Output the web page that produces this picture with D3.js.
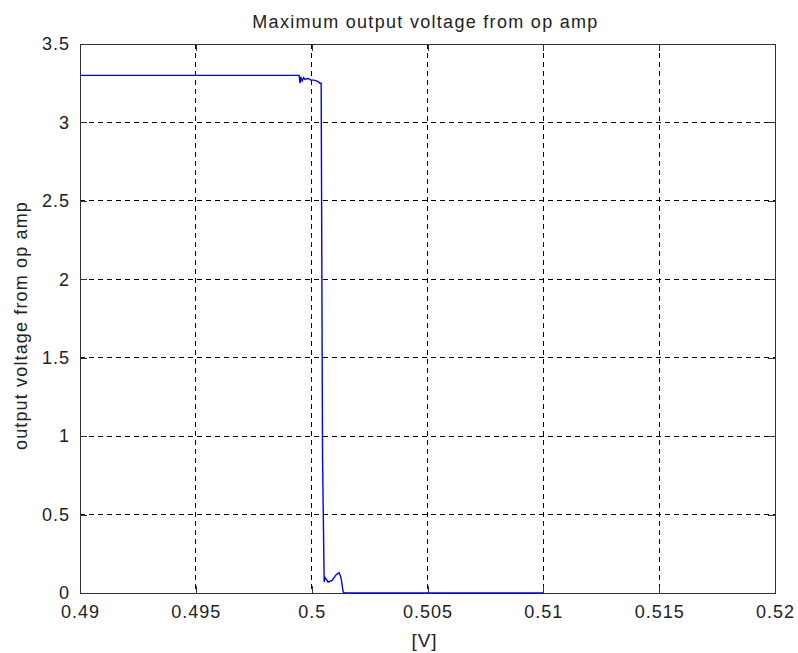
<!DOCTYPE html>
<meta charset="utf-8">
<script src="https://d3js.org/d3.v7.min.js"></script>
<style>
  body { margin: 0; background: #fff; }
  text { font-family: "Liberation Sans", Arial, sans-serif; fill: #222; }
</style>
<body>
<script>
    // values
    var inputV = [0.49, 0.49946, 0.4995, 0.49953, 0.49959, 0.49965, 0.4997, 0.49985, 0.49997,
        0.5001, 0.5002, 0.50028, 0.50036, 0.50041, 0.50043, 0.50047, 0.50054, 0.50057,
        0.50071, 0.50088, 0.50105, 0.50118, 0.50127, 0.50136, 0.50144, 0.51];
    var outputV = [3.3, 3.3, 3.25, 3.29, 3.265, 3.285, 3.275, 3.28, 3.27,
        3.27, 3.265, 3.26, 3.25, 3.25, 2.45, 0.86, 0.07, 0.1,
        0.07, 0.08, 0.115, 0.13, 0.096, 0.006, 0, 0];
    var xTicks = [0.49, 0.495, 0.5, 0.505, 0.51, 0.515, 0.52];
    var yTicks = [0, 0.5, 1, 1.5, 2, 2.5, 3, 3.5];

    var margin = { top: 44, right: 23, bottom: 60, left: 80 },
        width = 798 - margin.left - margin.right,
        height = 653 - margin.top - margin.bottom;

    var svg = d3.select("body").append("svg")
        .attr("width", 798)
        .attr("height", 653)
        .append("g")
        .attr("transform", "translate(" + margin.left + "," + margin.top + ")");

    var x = d3.scaleLinear().range([0, width]).domain([0.49, 0.52]);
    var y = d3.scaleLinear().range([height, 0]).domain([0, 3.5]);

    // grid
    svg.selectAll(".vgrid")
        .data(xTicks.slice(1, -1))
        .enter().append("line")
        .attr("x1", function (d) { return x(d); })
        .attr("x2", function (d) { return x(d); })
        .attr("y1", 0).attr("y2", height)
        .style("stroke", "#000")
        .style("stroke-dasharray", "5,4")
        .attr("shape-rendering", "crispEdges");
    svg.selectAll(".hgrid")
        .data(yTicks.slice(1, -1))
        .enter().append("line")
        .attr("y1", function (d) { return y(d); })
        .attr("y2", function (d) { return y(d); })
        .attr("x1", 0).attr("x2", width)
        .style("stroke", "#000")
        .style("stroke-dasharray", "5,4")
        .attr("shape-rendering", "crispEdges");

    // axes, ticks inside on all four sides
    var xb = svg.append("g")
        .attr("transform", "translate(0," + height + ")")
        .call(d3.axisBottom(x).tickValues(xTicks).tickSizeInner(-7).tickSizeOuter(0).tickPadding(20)
            .tickFormat(function (d) { return String(+d.toFixed(3)); }));
    var yl = svg.append("g")
        .call(d3.axisLeft(y).tickValues(yTicks).tickSizeInner(-7).tickSizeOuter(0).tickPadding(10)
            .tickFormat(function (d) { return String(d); }));
    svg.append("g")
        .call(d3.axisTop(x).tickValues(xTicks).tickSizeInner(-7).tickSizeOuter(0).tickFormat(""));
    svg.append("g")
        .attr("transform", "translate(" + width + ",0)")
        .call(d3.axisRight(y).tickValues(yTicks).tickSizeInner(-7).tickSizeOuter(0).tickFormat(""));

    svg.selectAll(".domain, .tick line")
        .style("stroke", "#333")
        .attr("shape-rendering", "crispEdges");
    svg.selectAll(".tick text")
        .style("font-size", "18px")
        .style("letter-spacing", "1px")
        .style("fill", "#222");
    xb.selectAll(".tick text").attr("dy", "0.3em");

    // the curve
    var pts = d3.zip(inputV, outputV);
    svg.append("path")
        .datum(pts)
        .attr("fill", "none")
        .attr("stroke", "#0000ff")
        .attr("stroke-width", 1.4)
        .attr("d", d3.line()
            .x(function (d) { return x(d[0]); })
            .y(function (d) { return y(d[1]); }));

    // labels
    svg.append("text")
        .text("Maximum output voltage from op amp")
        .attr("x", width / 2 - 2)
        .attr("y", -16)
        .attr("text-anchor", "middle")
        .style("letter-spacing", "1.3px")
        .style("font-size", "18px");
    svg.append("text")
        .text("[V]")
        .attr("x", width / 2 - 3)
        .attr("y", height + 54)
        .attr("text-anchor", "middle")
        .style("letter-spacing", "1px")
        .style("font-size", "19px");
    svg.append("text")
        .text("output voltage from op amp")
        .attr("transform", "rotate(-90)")
        .attr("x", -height / 2 - 7)
        .attr("y", -53)
        .attr("text-anchor", "middle")
        .style("letter-spacing", "1.15px")
        .style("font-size", "18px");
</script>
</body>
